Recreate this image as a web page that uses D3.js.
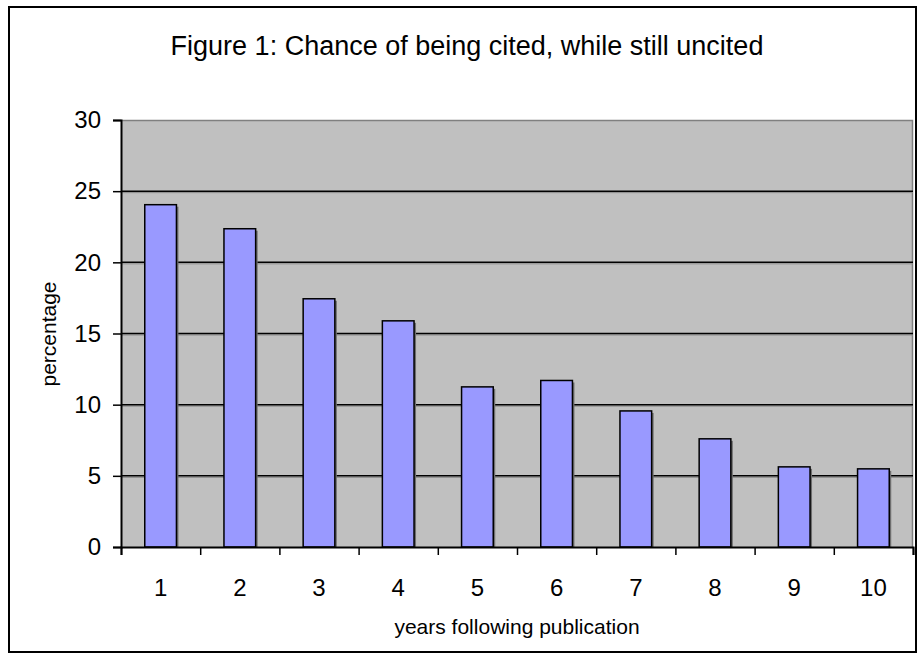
<!DOCTYPE html>
<html>
<head>
<meta charset="utf-8">
<script src="https://cdn.jsdelivr.net/npm/d3@7"></script>
<style>
  body { margin: 0; background: #fff; }
  text { font-family: Arial, "Liberation Sans", sans-serif; fill: #000; }
</style>
</head>
<body>
<svg id="chart"></svg>
<script>
var years = ["1", "2", "3", "4", "5", "6", "7", "8", "9", "10"];
var percentages = [24.05, 22.36, 17.44, 15.89, 11.25, 11.7, 9.56, 7.6, 5.63, 5.49];
var yTicks = [0, 5, 10, 15, 20, 25, 30];

var W = 922, H = 661;
var plot = { left: 121, top: 120, right: 913, bottom: 547 };

var svg = d3.select("#chart").attr("width", W).attr("height", H);

// outer frame
svg.append("rect")
  .attr("x", 9).attr("y", 7)
  .attr("width", 907).attr("height", 645)
  .attr("fill", "#fff").attr("stroke", "#000").attr("stroke-width", 2);

var x = d3.scaleBand().domain(years)
  .range([plot.left, plot.right])
  .paddingInner(0.6).paddingOuter(0.3);
var xEdge = d3.scaleLinear().domain([0, years.length]).range([plot.left, plot.right]);
var y = d3.scaleLinear().domain([0, 30]).range([plot.bottom, plot.top]);

// plot background
svg.append("rect")
  .attr("x", plot.left).attr("y", plot.top)
  .attr("width", plot.right - plot.left).attr("height", plot.bottom - plot.top)
  .attr("fill", "#c0c0c0");
svg.append("path")
  .attr("d", "M" + plot.left + "," + (plot.top + 0.5) + "H" + (plot.right - 0.5) + "V" + plot.bottom)
  .attr("fill", "none").attr("stroke", "#808080").attr("stroke-width", 1.5);

// gridlines with shadow
var grid = yTicks.filter(function(t) { return t > 0 && t < 30; });
svg.selectAll(".gshadow").data(grid).enter().append("line")
  .attr("x1", plot.left).attr("x2", plot.right)
  .attr("y1", function(d) { return y(d) + 1.5; }).attr("y2", function(d) { return y(d) + 1.5; })
  .attr("stroke", "#8a8a8a").attr("stroke-width", 1);
svg.selectAll(".grid").data(grid).enter().append("line")
  .attr("x1", plot.left).attr("x2", plot.right)
  .attr("y1", function(d) { return y(d); }).attr("y2", function(d) { return y(d); })
  .attr("stroke", "#000").attr("stroke-width", 1.5);

// bars: shadow then bar
svg.selectAll(".shadow").data(percentages).enter().append("rect")
  .attr("x", function(d, i) { return x(years[i]) + 2; })
  .attr("y", function(d) { return y(d) + 2; })
  .attr("width", x.bandwidth())
  .attr("height", function(d) { return plot.bottom - y(d) - 2; })
  .attr("fill", "#6e6e6e");
svg.selectAll(".bar").data(percentages).enter().append("rect")
  .attr("x", function(d, i) { return x(years[i]); })
  .attr("y", function(d) { return y(d); })
  .attr("width", x.bandwidth())
  .attr("height", function(d) { return plot.bottom - y(d); })
  .attr("fill", "#9999ff").attr("stroke", "#000").attr("stroke-width", 1.5);

// y axis
var yAxis = d3.axisLeft(y).tickValues(yTicks).tickSize(8).tickPadding(12);
var yG = svg.append("g").attr("transform", "translate(" + plot.left + ",0)").call(yAxis);
yG.select(".domain").attr("stroke-width", 2);
yG.selectAll(".tick line").attr("stroke-width", 1.5);
yG.selectAll("text").attr("font-size", 24).style("font-family", "Arial, 'Liberation Sans', sans-serif");

// x axis: ticks at category edges, labels at band centres
var xTickG = svg.append("g").attr("transform", "translate(0," + plot.bottom + ")")
  .call(d3.axisBottom(xEdge).ticks(years.length).tickSize(8).tickFormat(""));
xTickG.select(".domain").attr("stroke-width", 2);
xTickG.selectAll(".tick line").attr("stroke-width", 1.5);

var xLabG = svg.append("g").attr("transform", "translate(0," + plot.bottom + ")")
  .call(d3.axisBottom(x).tickSize(0).tickPadding(32));
xLabG.select(".domain").remove();
xLabG.selectAll("text").attr("font-size", 24).style("font-family", "Arial, 'Liberation Sans', sans-serif");

// titles
svg.append("text")
  .attr("x", 467).attr("y", 55)
  .attr("text-anchor", "middle")
  .attr("font-size", 27)
  .text("Figure 1: Chance of being cited, while still uncited");

svg.append("text")
  .attr("x", 517).attr("y", 634)
  .attr("text-anchor", "middle")
  .attr("font-size", 21)
  .text("years following publication");

svg.append("text")
  .attr("transform", "translate(56,334) rotate(-90)")
  .attr("text-anchor", "middle")
  .attr("font-size", 21)
  .text("percentage");
</script>
</body>
</html>
